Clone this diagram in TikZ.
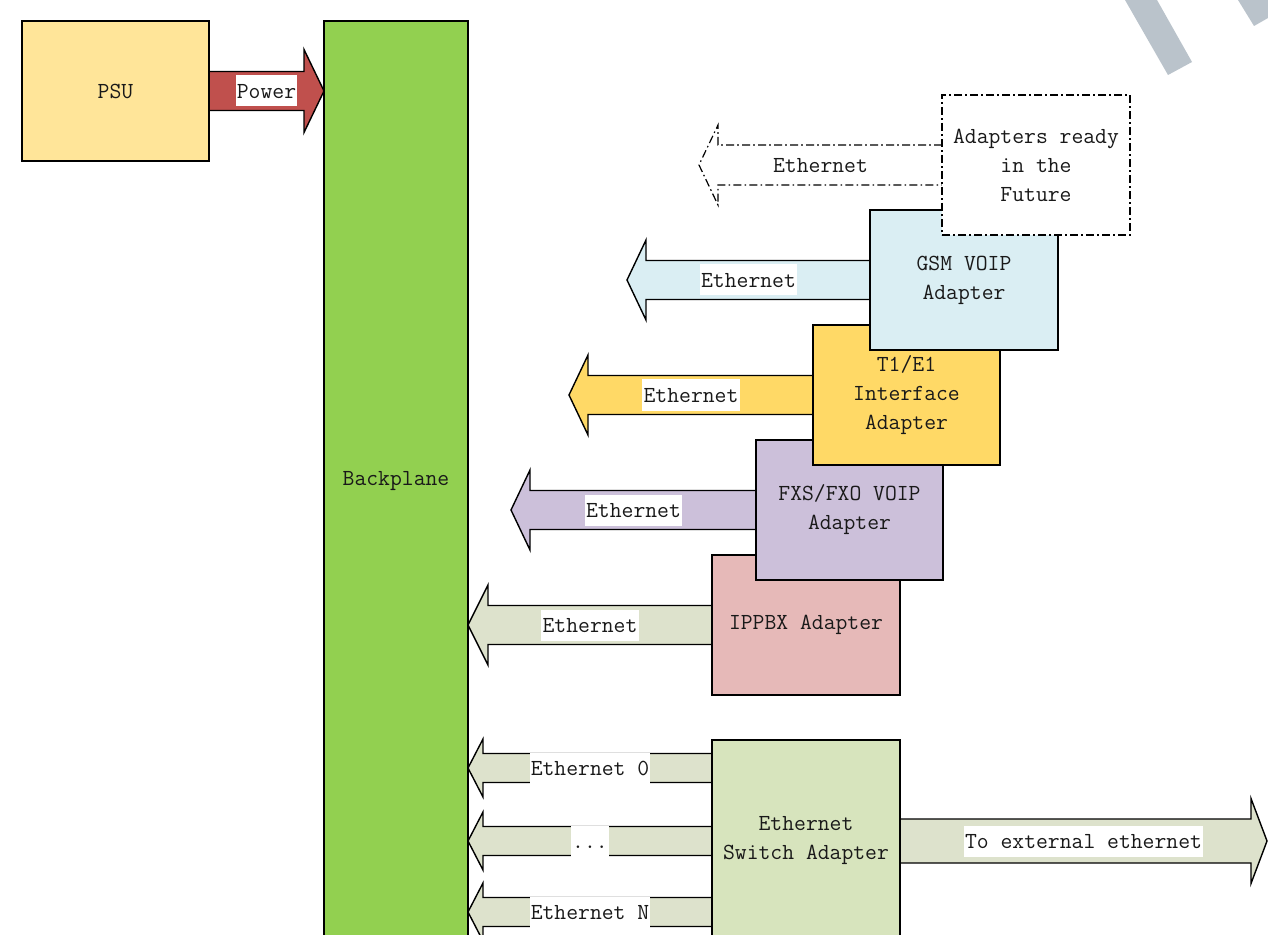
\documentclass[tikz,border=0pt]{standalone}
\usepackage{fontspec}
\usetikzlibrary{calc}
\definecolor{psuC}{HTML}{FFE599}
\definecolor{powerC}{HTML}{C0504D}
\definecolor{bpC}{HTML}{92D050}
\definecolor{gsmC}{HTML}{DAEEF3}
\definecolor{tC}{HTML}{FFD966}
\definecolor{fxsC}{HTML}{CCC0DA}
\definecolor{ipC}{HTML}{E6B9B8}
\definecolor{swC}{HTML}{D7E4BD}
\definecolor{grnArrC}{HTML}{DDE2CC}
\definecolor{stripeC}{HTML}{BAC3CB}
\pgfdeclarelayer{paper}
\pgfdeclarelayer{arrowlayer}
\pgfsetlayers{paper,arrowlayer,main}
% #1 style, #2 start (box side), #3 tip, #4 half shaft, #5 half head, #6 head length (signed), #7 label
\newcommand{\blockarrow}[7]{%
  \begin{pgfonlayer}{arrowlayer}
  \draw[#1] ($(#2)+(0,-#4)$) -- ($(#3)+(#6,-#4)$) -- ($(#3)+(#6,-#5)$) -- (#3)
     -- ($(#3)+(#6,#5)$) -- ($(#3)+(#6,#4)$) -- ($(#2)+(0,#4)$);
  \path (#2) -- (#3) node[midway,lbl]{#7};
  \end{pgfonlayer}}
\begin{document}
\begin{tikzpicture}[x=0.5pt,y=-0.5pt,
  font=\fontsize{11.5pt}{14.5pt}\selectfont\ttfamily,
  box/.style={draw, line width=0.7pt, inner sep=0pt, outer sep=0pt, align=center, text=black!90},
  arr/.style={draw, line width=0.7pt, line join=miter},
  dashdot/.style={draw, line width=0.6pt, dash pattern=on 4pt off 1.6pt on 0.8pt off 1.6pt},
  lbl/.style={fill=white, inner xsep=0.6pt, inner ysep=2pt, text height=9.5pt, text depth=2pt, text=black!90}]
\clip (0,0) rectangle (1268,935);
\begin{pgfonlayer}{paper}
\fill[white] (0,0) rectangle (1268,935);
\end{pgfonlayer}

% stripes
\fill[stripeC] (1125,0) -- (1157,0) -- (1192,62) -- (1168,75) -- cycle;
\fill[stripeC] (1238,0) -- (1268,0) -- (1268,18) -- (1254,26) -- cycle;

% boxes
\node[box, fill=bpC, minimum width=72pt, minimum height=460pt] (bp) at (396,481) {Backplane};
\node[box, fill=psuC, minimum width=93.5pt, minimum height=70pt] (psu) at (115.5,91) {PSU};
\node[box, fill=ipC, minimum width=94pt, minimum height=70pt] (ippbx) at (806,625) {IPPBX Adapter};
\node[box, fill=fxsC, minimum width=93.5pt, minimum height=70pt] (fxs) at (849.5,510) {FXS/FXO VOIP\\Adapter};
\node[box, fill=tC, minimum width=93.5pt, minimum height=70pt] (t1) at (906.5,395) {T1/E1\\Interface\\Adapter};
\node[box, fill=gsmC, minimum width=94pt, minimum height=70pt] (gsm) at (964,280) {GSM VOIP\\Adapter};
\node[box, dashdot, fill=white, minimum width=94pt, minimum height=70pt] (future) at (1036,165) {Adapters ready\\in the\\Future};
\node[box, fill=swC, minimum width=94pt, minimum height=101pt] (switch) at (806,841) {Ethernet\\Switch Adapter};

% free ends
\coordinate (bpin) at (bp.west |- psu.east);
\coordinate (futT) at (699,165);
\coordinate (gsmT) at (627,280);
\coordinate (t1T) at (569,395);
\coordinate (fxsT) at (511,510);
\coordinate (ipT) at (bp.east |- ippbx.west);
\coordinate (s0) at ($(switch.west)+(0,-73)$);
\coordinate (s1) at (switch.west);
\coordinate (s2) at ($(switch.west)+(0,71)$);
\coordinate (e0) at (bp.east |- s0);
\coordinate (e1) at (bp.east |- s1);
\coordinate (e2) at (bp.east |- s2);
\coordinate (extT) at (1267,841);

% connectors
\blockarrow{arr, fill=powerC}{psu.east}{bpin}{19.5}{41.5}{-20}{Power}
\blockarrow{dashdot, fill=white}{future.west}{futT}{20}{40}{19}{Ethernet}
\blockarrow{arr, fill=gsmC}{gsm.west}{gsmT}{19.5}{40}{19}{Ethernet}
\blockarrow{arr, fill=tC}{t1.west}{t1T}{19.5}{40}{19}{Ethernet}
\blockarrow{arr, fill=fxsC}{fxs.west}{fxsT}{19.5}{40}{19}{Ethernet}
\blockarrow{arr, fill=grnArrC}{ippbx.west}{ipT}{19.5}{40}{20}{Ethernet}
\blockarrow{arr, fill=grnArrC}{s0}{e0}{14.5}{29}{15}{Ethernet 0}
\blockarrow{arr, fill=grnArrC}{s1}{e1}{14.5}{29}{15}{...}
\blockarrow{arr, fill=grnArrC}{s2}{e2}{14.5}{29}{15}{Ethernet N}
\blockarrow{arr, fill=grnArrC}{switch.east}{extT}{22}{42.5}{-16}{To external ethernet}
\end{tikzpicture}
\end{document}
